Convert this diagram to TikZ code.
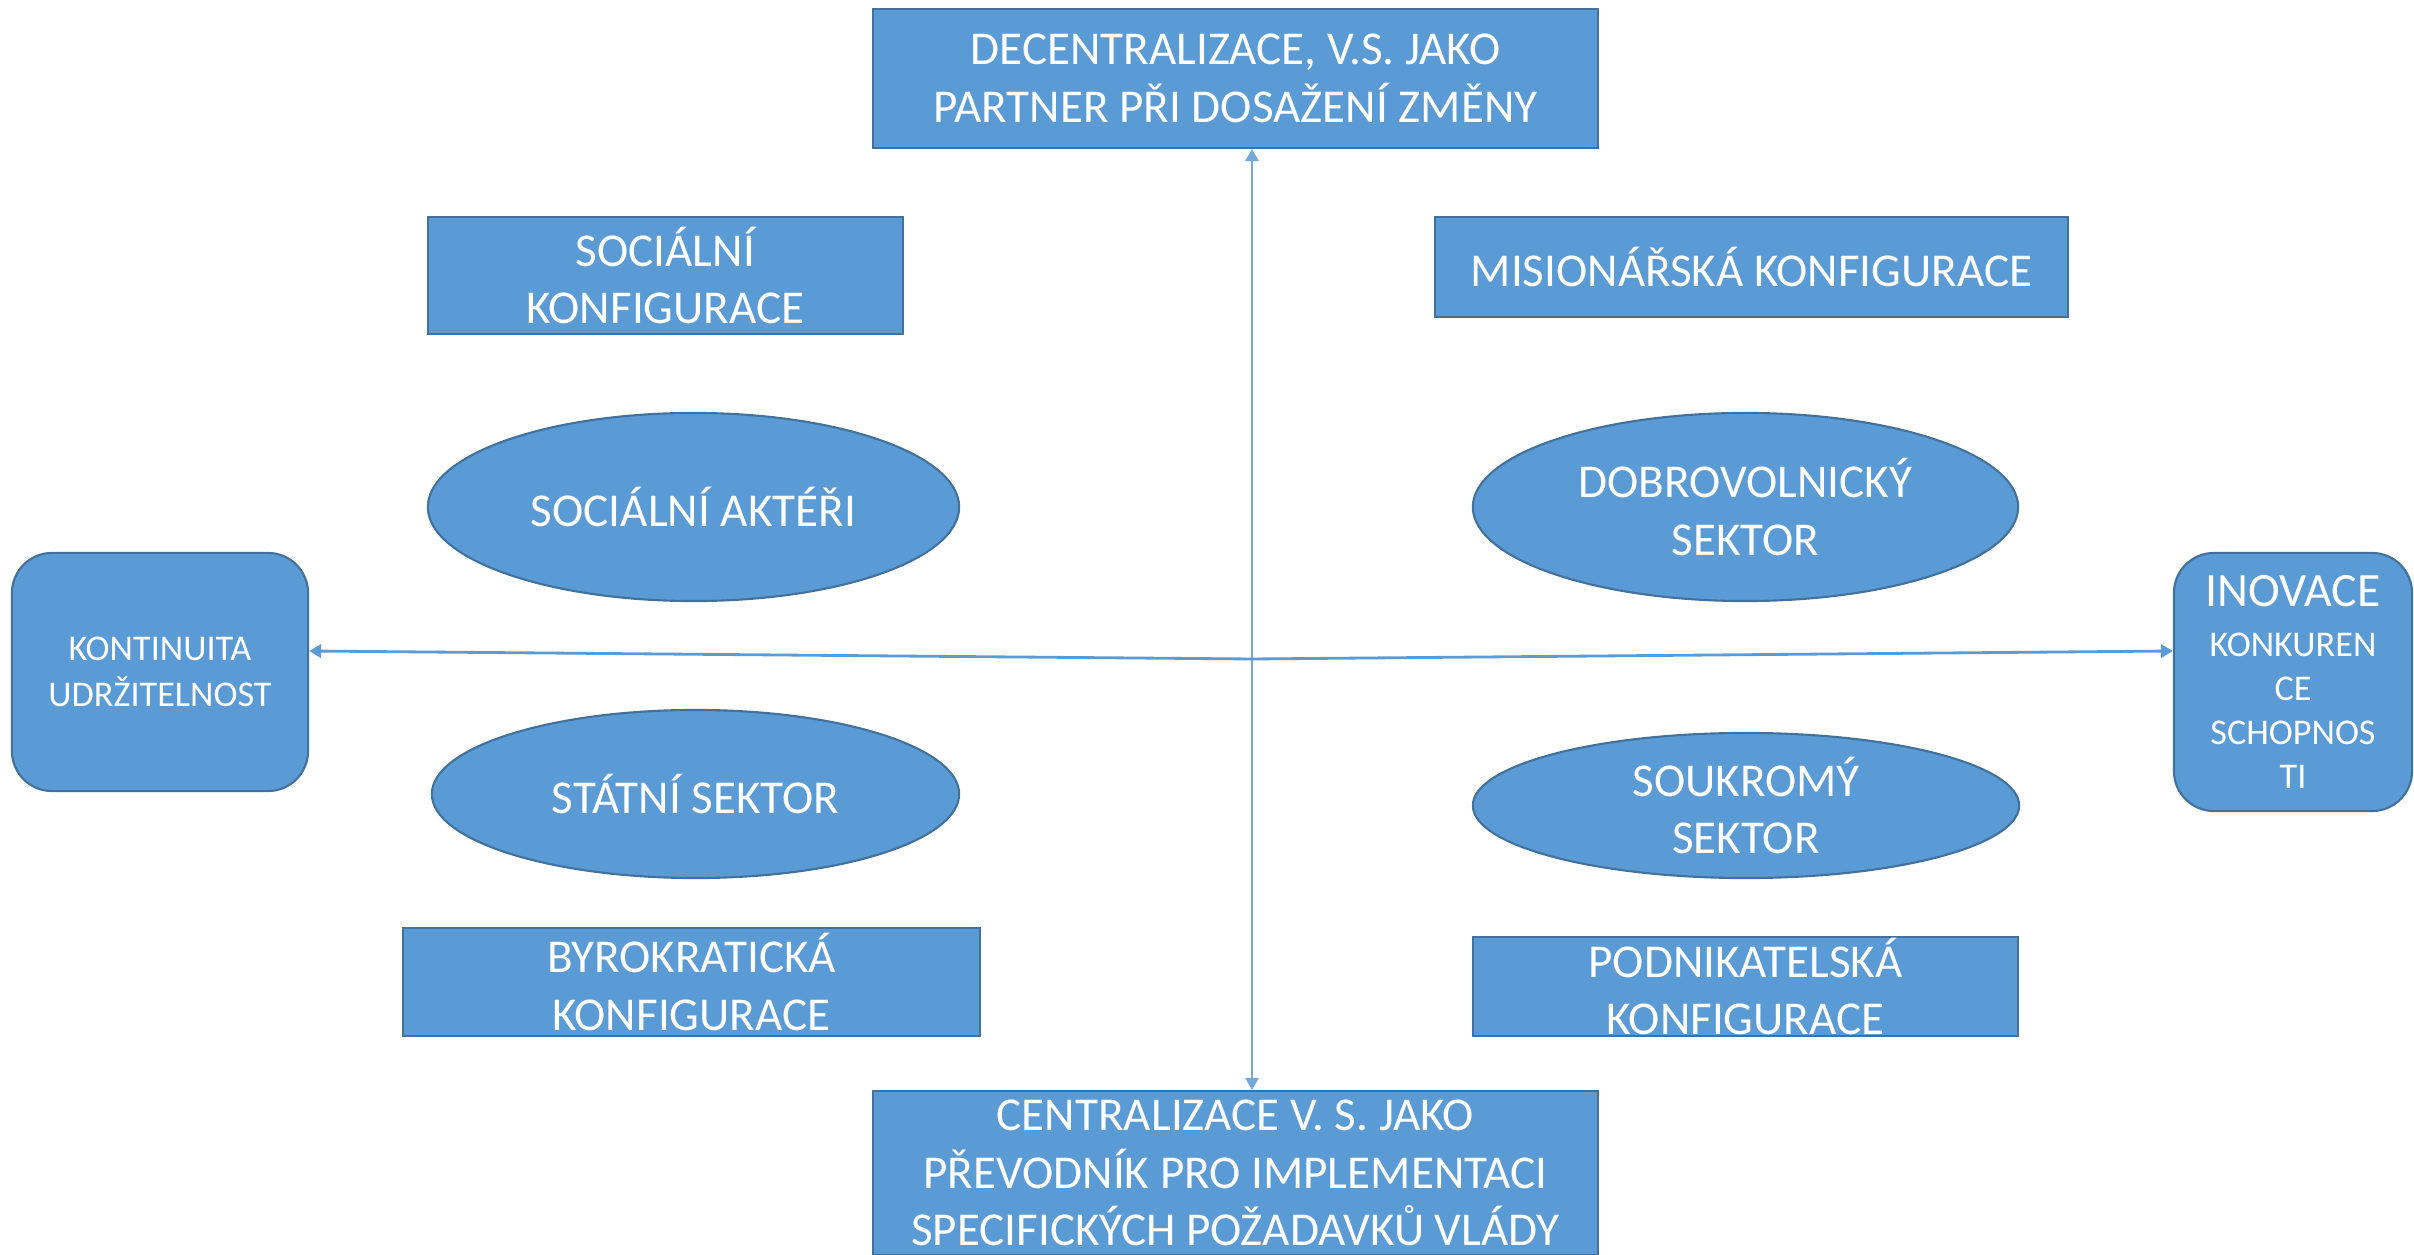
\documentclass[tikz,border=0pt]{standalone}
\usepackage{fontspec}
\setmainfont{Carlito}
\usetikzlibrary{shapes.geometric,arrows.meta,calc}
\definecolor{fillblue}{HTML}{5B9BD5}
\definecolor{edgeblue}{HTML}{41719C}
\definecolor{lineblue}{HTML}{5B9BD5}
\begin{document}
\begin{tikzpicture}[x=0.01cm,y=-0.01cm,
  shapebase/.style={fill=fillblue,draw=edgeblue,line width=0.6pt,text=white,align=center,inner sep=0pt},
  rectbox/.style={shapebase,rectangle},
  ovalbox/.style={shapebase,ellipse},
  roundbox/.style={shapebase,rectangle,rounded corners=0.4cm},
  bigfont/.style={font=\fontsize{13.4}{16.3}\selectfont},
  smallfont/.style={font=\fontsize{10.3}{13.1}\selectfont},
  conn/.style={draw=lineblue,-{Triangle[length=3.4pt,width=3.8pt]}},
  vconn/.style={conn,draw=lineblue!85,line width=0.55pt},
  hconn/.style={conn,line width=0.8pt}
]
\useasboundingbox (0,0) rectangle (2414,1255);

\node[rectbox,bigfont,minimum width=7.25cm,minimum height=1.39cm] (top) at (1235.5,78.5)
  {DECENTRALIZACE, V.S. JAKO\\PARTNER PŘI DOSAŽENÍ ZMĚNY};
\node[rectbox,font=\fontsize{13.4}{16.4}\selectfont,minimum width=7.25cm,minimum height=1.64cm] (bot) at (1235.5,1173)
  {CENTRALIZACE V. S. JAKO\\PŘEVODNÍK PRO IMPLEMENTACI\\SPECIFICKÝCH POŽADAVKŮ VLÁDY};

\node[rectbox,bigfont,minimum width=4.75cm,minimum height=1.17cm] (sockonf) at (665.5,275.5)
  {SOCIÁLNÍ\\KONFIGURACE};
\node[rectbox,bigfont,minimum width=6.33cm,minimum height=1.00cm] (miskonf) at (1751.5,267)
  {MISIONÁŘSKÁ KONFIGURACE};
\node[rectbox,bigfont,minimum width=5.77cm,minimum height=1.08cm] (byrkonf) at (691.5,982)
  {BYROKRATICKÁ\\KONFIGURACE};
\node[rectbox,bigfont,minimum width=5.45cm,minimum height=0.99cm] (podkonf) at (1745.5,986.5)
  {PODNIKATELSKÁ\\KONFIGURACE};

\node[ovalbox,bigfont,minimum width=5.31cm,minimum height=1.88cm] (socakt) at (693.5,507)
  {SOCIÁLNÍ AKTÉŘI};
\node[ovalbox,bigfont,minimum width=5.45cm,minimum height=1.88cm] (dobrov) at (1745.5,507)
  {DOBROVOLNICKÝ\\SEKTOR};
\node[ovalbox,bigfont,minimum width=5.27cm,minimum height=1.68cm] (statni) at (695.5,794)
  {STÁTNÍ SEKTOR};
\node[ovalbox,bigfont,minimum width=5.46cm,minimum height=1.45cm] (soukr) at (1746,805.5)
  {SOUKROMÝ\\SEKTOR};

\node[roundbox,smallfont,minimum width=2.96cm,minimum height=2.38cm] (left) at (160,672)
  {KONTINUITA\\UDRŽITELNOST};
\node[roundbox,font=\fontsize{10.3}{12.5}\selectfont,minimum width=2.38cm,minimum height=2.58cm] (right) at (2293,682)
  {{\fontsize{13.6}{15}\selectfont INOVACE}\\[1.6pt]KONKUREN\\CE\\SCHOPNOS\\TI};

\coordinate (c) at (1252,659);
\draw[vconn] (c) -- (c |- top.south);
\draw[vconn] (c) -- (c |- bot.north);
\draw[hconn] (c) -- ($(left.east)+(0,-21)$);
\draw[hconn] (c) -- ($(right.west)+(0,-31)$);
\end{tikzpicture}
\end{document}
